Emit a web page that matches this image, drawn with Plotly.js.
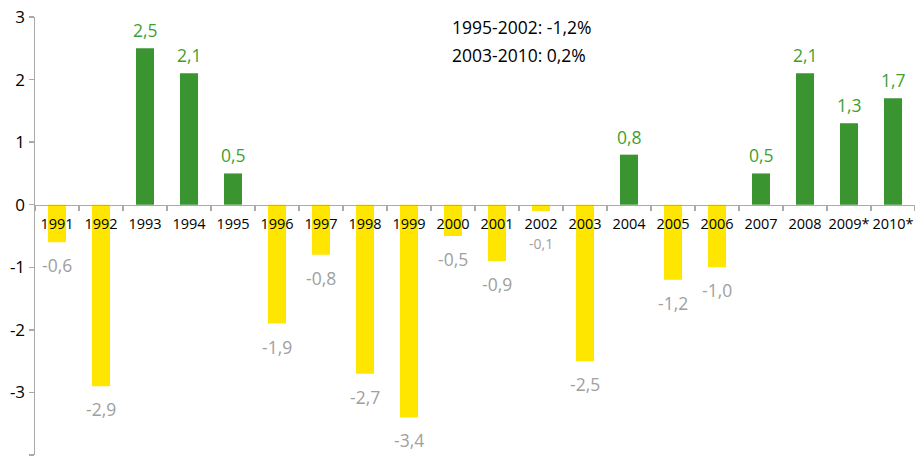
<!DOCTYPE html>
<html>
<head>
<meta charset="utf-8">
<script src="https://cdn.plot.ly/plotly-3.0.1.min.js"></script>
<style>html,body{margin:0;padding:0;background:#fff;}#chart{width:915px;height:462px;}</style>
</head>
<body>
<div id="chart"></div>
<script>
const years = ["1991","1992","1993","1994","1995","1996","1997","1998","1999","2000","2001","2002","2003","2004","2005","2006","2007","2008","2009*","2010*"];
const values = [-0.6,-2.9,2.5,2.1,0.5,-1.9,-0.8,-2.7,-3.4,-0.5,-0.9,-0.1,-2.5,0.8,-1.2,-1.0,0.5,2.1,1.3,1.7];
const yTickVals = [-4,-3,-2,-1,0,1,2,3];
const yTickText = ["-4","-3","-2","-1","0","1","2","3"];
const noteLines = ["1995-2002: -1,2%","2003-2010: 0,2%"];

const GREEN = "#3a9530", GREEN_TXT = "#3f9f30", YELLOW = "#ffe600", GRAY_TXT = "#a0a0a0";
const FONT = "Open Sans, Noto Sans, sans-serif";

const fmt = v => v.toFixed(1).replace(".", ",");

const trace = {
  type: "bar",
  x: years,
  y: values,
  marker: { color: values.map(v => v >= 0 ? GREEN : YELLOW), line: { width: 0 } },
  hoverinfo: "skip"
};

const annotations = values.map((v, i) => {
  const small = Math.abs(v) < 0.3;
  return {
    x: i, y: v, xref: "x", yref: "y",
    text: fmt(v), showarrow: false,
    yshift: v >= 0 ? 18 : (small ? -33 : -23),
    font: { family: FONT, size: small ? 14 : 17.5, color: v >= 0 ? GREEN_TXT : GRAY_TXT }
  };
});
noteLines.forEach((t, k) => annotations.push({
  xref: "paper", yref: "paper", x: (450 - 35) / 880, y: 1 - (27 + 28 * k - 17) / 438,
  xanchor: "left", yanchor: "middle",
  text: t, showarrow: false,
  font: { family: FONT, size: 17.5, color: "#000" }
}));

const layout = {
  width: 915, height: 462,
  margin: { l: 35, r: 0, t: 17, b: 7 },
  paper_bgcolor: "#fff", plot_bgcolor: "#fff",
  showlegend: false,
  bargap: 0.59,
  font: { family: FONT, color: "#000" },
  xaxis: {
    type: "category",
    anchor: "free", position: 4 / 7,
    showline: true, linecolor: "#aaaaaa", linewidth: 1.5,
    ticks: "outside", tickson: "boundaries", ticklen: 5, tickcolor: "#aaaaaa", tickwidth: 1.5,
    tickangle: 0, ticklabelstandoff: 5,
    tickfont: { family: FONT, size: 14.5, color: "#000" },
    showgrid: false, zeroline: false, fixedrange: true,
    range: [-0.5, 19.5]
  },
  yaxis: {
    range: [-4, 3], tickmode: "array", tickvals: yTickVals, ticktext: yTickText,
    showline: true, linecolor: "#aaaaaa", linewidth: 1.5,
    ticks: "outside", ticklen: 5, tickcolor: "#aaaaaa", tickwidth: 1.5,
    tickfont: { family: FONT, size: 17, color: "#000" },
    showgrid: false, zeroline: false, fixedrange: true
  },
  annotations: annotations
};

Plotly.newPlot("chart", [trace], layout, { staticPlot: true, displayModeBar: false });
</script>
</body>
</html>
